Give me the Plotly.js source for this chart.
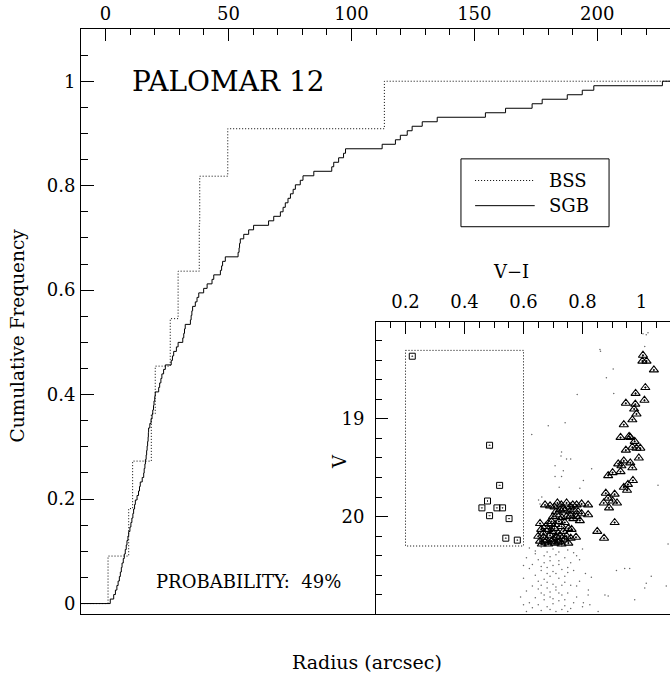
<!DOCTYPE html>
<html>
<head>
<meta charset="utf-8">
<script src="https://cdn.plot.ly/plotly-3.0.1.min.js"></script>
<style>html,body{margin:0;padding:0;overflow:hidden;background:#fff;}#chart{width:672px;height:677px;}</style>
</head>
<body>
<div id="chart"></div>
<script>
// ---------- Data: cumulative radial distributions (radius in arcsec) ----------
const bssRadius = [1.0, 9.4, 11.0, 18.6, 20.2, 26.3, 29.5, 38.1, 38.3, 49.7, 113.4];
const sgbRadius = [
  1.9, 3.3, 4.0, 4.6, 5.1, 5.6, 6.0, 6.4, 6.7, 7.2,
  7.6, 8.0, 8.4, 8.7, 9.1, 9.4, 9.9, 10.3, 10.7, 11.1,
  11.4, 11.8, 12.1, 12.8, 13.4, 13.8, 14.1, 14.9, 15.5, 15.7,
  16.0, 16.2, 16.5, 16.7, 16.9, 17.1, 17.3, 17.4, 17.5, 18.0,
  18.5, 18.9, 19.2, 19.5, 19.7, 20.0, 20.2, 21.6, 22.0, 22.5,
  22.9, 23.6, 24.3, 26.7, 27.2, 27.7, 28.8, 29.5, 31.4, 31.8,
  32.1, 32.4, 34.5, 34.8, 35.1, 35.4, 36.5, 37.2, 37.9, 39.9,
  41.3, 43.3, 44.0, 46.7, 47.2, 47.6, 48.7, 53.9, 54.3, 54.5,
  54.8, 56.2, 58.2, 60.2, 66.3, 68.4, 71.1, 72.2, 73.1, 74.2,
  75.2, 76.3, 77.2, 79.2, 80.3, 84.7, 92.0, 92.8, 94.8, 96.8,
  97.6, 112.5, 117.9, 119.9, 122.7, 124.7, 128.8, 134.9, 154.5, 162.7,
  173.5, 177.6, 187.8, 193.9, 198.6, 226.5
];
const radiusRange = [-10, 230];
const freqRange = [-0.02, 1.1];

// ---------- Data: inset CMD ----------
const bssVI = [0.223, 0.485, 0.519, 0.478, 0.459, 0.510, 0.529, 0.485, 0.551, 0.540, 0.579];
const bssV  = [18.36, 19.27, 19.68, 19.84, 19.91, 19.91, 19.91, 19.99, 20.02, 20.22, 20.24];
const bssBoxVI = [0.2, 0.6, 0.6, 0.2, 0.2];
const bssBoxV  = [18.3, 18.3, 20.3, 20.3, 18.3];

const sgbVI = [
  // giant branch
  1.005, 1.003, 1.017, 1.042, 1.013, 0.980, 1.010, 0.947, 0.979, 0.975,
  0.983, 0.969, 0.940, 0.929, 0.958, 0.962, 0.977, 0.947, 0.969, 0.983,
  0.996, 0.991, 0.921, 0.940, 0.962, 0.932, 0.969, 0.902, 0.887, 0.929,
  0.971, 0.954, 0.940, 0.951, 0.879, 0.909, 0.887, 0.902, 0.917, 0.872,
  0.890, 0.909, 0.850, 0.873,
  // subgiant clump
  0.673, 0.690, 0.715, 0.746, 0.767, 0.780, 0.797, 0.819, 0.705, 0.728, 0.758, 0.735,
  0.724, 0.757, 0.797, 0.819, 0.740, 0.770, 0.785, 0.710,
  0.713, 0.746, 0.769, 0.791, 0.730, 0.760, 0.700, 0.780,
  0.656, 0.684, 0.707, 0.729, 0.752, 0.763, 0.695, 0.720, 0.740, 0.675,
  0.667, 0.696, 0.718, 0.746, 0.778, 0.685, 0.705, 0.735, 0.660, 0.725,
  0.656, 0.679, 0.701, 0.724, 0.752, 0.668, 0.690, 0.712, 0.740, 0.760,
  0.662, 0.684, 0.706, 0.729, 0.695, 0.673, 0.717, 0.650
];
const sgbV = [
  18.35, 18.41, 18.41, 18.50, 18.68, 18.74, 18.81, 18.84, 18.85, 18.90,
  18.95, 19.01, 19.06, 19.19, 19.18, 19.19, 19.23, 19.32, 19.29, 19.30,
  19.30, 19.40, 19.46, 19.43, 19.45, 19.48, 19.50, 19.55, 19.58, 19.54,
  19.63, 19.67, 19.70, 19.73, 19.76, 19.77, 19.81, 19.84, 19.86, 19.86,
  19.91, 20.06, 20.15, 20.22,
  19.88, 19.89, 19.86, 19.86, 19.88, 19.88, 19.87, 19.88, 19.90, 19.88, 19.90, 19.92,
  19.93, 19.95, 19.97, 19.98, 19.94, 19.93, 19.95, 19.95,
  19.98, 20.00, 20.02, 20.04, 20.01, 19.99, 20.00, 20.00,
  20.07, 20.07, 20.08, 20.10, 20.12, 20.13, 20.05, 20.05, 20.06, 20.10,
  20.17, 20.15, 20.17, 20.20, 20.21, 20.13, 20.12, 20.15, 20.13, 20.20,
  20.25, 20.24, 20.23, 20.25, 20.27, 20.21, 20.19, 20.21, 20.23, 20.22,
  20.28, 20.28, 20.27, 20.28, 20.25, 20.26, 20.26, 20.20
];

const fieldVI = [
  0.62, 0.66, 0.70, 0.73, 0.75, 0.68, 0.64, 0.71, 0.77, 0.80,
  0.61, 0.65, 0.69, 0.72, 0.74, 0.67, 0.63, 0.76, 0.79, 0.70,
  0.62, 0.66, 0.68, 0.73, 0.75, 0.71, 0.64, 0.69, 0.77, 0.81,
  0.60, 0.65, 0.67, 0.72, 0.74, 0.70, 0.63, 0.68, 0.76, 0.79,
  0.61, 0.66, 0.69, 0.71, 0.73, 0.75, 0.64, 0.67, 0.72, 0.78,
  0.62, 0.65, 0.68, 0.70, 0.74, 0.76, 0.66, 0.71, 0.73, 0.80,
  0.67, 0.69, 0.72, 0.66, 0.70, 0.74, 0.68, 0.71, 0.65, 0.73,
  0.69, 0.67, 0.70, 0.74, 0.63, 0.77, 0.82, 0.83, 0.60, 0.59,
  0.64, 0.72, 0.78, 0.68, 0.75, 0.66, 0.72, 0.69, 0.75, 0.61,
  0.859, 0.861, 1.011, 1.016, 1.005, 1.022, 0.904, 0.881, 0.906, 0.782,
  0.741, 0.684, 0.628, 0.729, 0.727, 0.746, 0.760, 0.707, 0.735, 0.729,
  0.707, 0.803, 0.721, 0.791, 0.831, 1.056, 0.662, 0.651, 0.656, 1.090,
  1.084, 1.033, 1.016, 1.011, 0.977, 0.960, 0.943, 0.915, 0.876, 0.887,
  0.853, 0.825, 0.803, 0.819, 0.780, 0.600
];
const fieldV = [
  20.32, 20.31, 20.33, 20.30, 20.34, 20.36, 20.38, 20.39, 20.37, 20.33,
  20.42, 20.44, 20.41, 20.45, 20.42, 20.47, 20.49, 20.47, 20.44, 20.50,
  20.53, 20.55, 20.52, 20.54, 20.57, 20.58, 20.60, 20.61, 20.55, 20.58,
  20.63, 20.66, 20.64, 20.63, 20.67, 20.69, 20.71, 20.73, 20.70, 20.66,
  20.76, 20.78, 20.77, 20.75, 20.80, 20.78, 20.83, 20.85, 20.86, 20.82,
  20.88, 20.90, 20.92, 20.89, 20.91, 20.94, 20.96, 20.97, 20.95, 20.92,
  20.40, 20.45, 20.49, 20.51, 20.56, 20.61, 20.67, 20.72, 20.74, 20.70,
  20.82, 20.80, 20.84, 20.85, 20.93, 20.88, 20.75, 20.62, 20.50, 20.82,
  20.35, 20.36, 20.40, 20.58, 20.52, 20.70, 20.78, 20.95, 20.97, 20.97,
  18.29, 18.31, 18.26, 18.14, 18.13, 18.12, 18.49, 18.58, 18.74, 18.75,
  19.04, 19.07, 19.16, 19.34, 19.38, 19.41, 19.41, 19.48, 19.53, 19.59,
  19.59, 19.63, 19.70, 19.71, 19.51, 19.68, 19.80, 19.83, 19.87, 20.28,
  20.71, 20.61, 20.68, 20.73, 20.85, 20.53, 20.53, 20.55, 20.80, 20.81,
  20.97, 20.90, 20.88, 20.80, 20.71, 20.90
];

// ---------- Build cumulative step curves ----------
function cumulative(radii) {
  const xs = [radiusRange[0]], ys = [0];
  radii.forEach((r, i) => { xs.push(r); ys.push((i + 1) / radii.length); });
  xs.push(radiusRange[1]); ys.push(1);
  return {x: xs, y: ys};
}
const bssC = cumulative(bssRadius);
const sgbC = cumulative(sgbRadius);

const FONT = 'DejaVu Serif';

const traces = [
  {x: sgbC.x, y: sgbC.y, mode: 'lines', line: {shape: 'hv', color: '#000', width: 1}, name: 'SGB', showlegend: false, xaxis: 'x', yaxis: 'y'},
  {x: bssC.x, y: bssC.y, mode: 'lines', line: {shape: 'hv', color: '#000', width: 1, dash: '1px,2px'}, name: 'BSS', showlegend: false, xaxis: 'x', yaxis: 'y'},
  {x: fieldVI, y: fieldV, mode: 'markers', marker: {symbol: 'circle', size: 1.5, color: '#666'}, showlegend: false, xaxis: 'x2', yaxis: 'y2'},
  {x: bssBoxVI, y: bssBoxV, mode: 'lines', line: {color: '#000', width: 1, dash: '1px,2px'}, showlegend: false, xaxis: 'x2', yaxis: 'y2'},
  {x: sgbVI, y: sgbV, mode: 'markers', marker: {symbol: 'triangle-up-open-dot', size: 8, color: '#000', line: {width: 1.1, color: '#000'}}, showlegend: false, xaxis: 'x2', yaxis: 'y2'},
  {x: bssVI, y: bssV, mode: 'markers', marker: {symbol: 'square-open-dot', size: 6, color: '#000', line: {width: 1, color: '#000'}}, showlegend: false, xaxis: 'x2', yaxis: 'y2'}
];

const tickFont = {family: FONT, size: 18, color: '#000'};
function minorTicks(dtick, tick0, len) {
  return {ticks: 'inside', dtick: dtick, tick0: tick0, ticklen: len, tickwidth: 1, tickcolor: '#000', showgrid: false};
}
const layout = {
  width: 672, height: 677, autosize: false,
  margin: {l: 81, r: 1, t: 29, b: 63},
  paper_bgcolor: '#fff', plot_bgcolor: 'rgba(0,0,0,0)',
  font: {family: FONT, size: 17, color: '#000'},
  showlegend: false,
  xaxis: {
    domain: [0, 1], range: radiusRange, side: 'top', anchor: 'y',
    showline: true, mirror: true, linecolor: '#000', linewidth: 1,
    ticks: 'inside', ticklen: 12, tickwidth: 1, tickcolor: '#000',
    tick0: 0, dtick: 50, tickfont: tickFont, ticklabelstandoff: 1,
    minor: minorTicks(10, 0, 6),
    showgrid: false, zeroline: false
  },
  yaxis: {
    domain: [0, 1], range: freqRange, anchor: 'x',
    showline: true, mirror: false, linecolor: '#000', linewidth: 1,
    ticks: 'inside', ticklen: 13, tickwidth: 1, tickcolor: '#000',
    tick0: 0, dtick: 0.2, tickfont: tickFont, ticklabelstandoff: 1,
    minor: minorTicks(0.05, 0, 7),
    showgrid: false, zeroline: false
  },
  xaxis2: {
    domain: [0.5, 1], range: [0.1, 1.1], side: 'top', anchor: 'y2',
    showline: true, mirror: true, linecolor: '#000', linewidth: 1,
    ticks: 'inside', ticklen: 12, tickwidth: 1, tickcolor: '#000',
    tick0: 0, dtick: 0.2, tickfont: tickFont, ticklabelstandoff: 5,
    minor: minorTicks(0.05, 0, 6),
    showgrid: false, zeroline: false
  },
  yaxis2: {
    domain: [0, 0.5], range: [20.995, 18.005], anchor: 'x2',
    showline: true, mirror: true, linecolor: '#000', linewidth: 1,
    ticks: 'inside', ticklen: 12, tickwidth: 1, tickcolor: '#000',
    tick0: 18, dtick: 1, tickfont: tickFont, ticklabelstandoff: 7,
    minor: minorTicks(0.2, 18, 6),
    showgrid: false, zeroline: false
  },
  shapes: [
    {type: 'rect', xref: 'paper', yref: 'paper', x0: 0.644, x1: 0.895, y0: 0.662, y1: 0.778, line: {color: '#000', width: 1}, fillcolor: '#fff'},
    {type: 'line', xref: 'paper', yref: 'paper', x0: 0.668, x1: 0.769, y0: 0.741, y1: 0.741, line: {color: '#000', width: 1, dash: '1px,2px'}},
    {type: 'line', xref: 'paper', yref: 'paper', x0: 0.668, x1: 0.769, y0: 0.698, y1: 0.698, line: {color: '#000', width: 1}}
  ],
  annotations: [
    {text: 'BSS', xref: 'paper', yref: 'paper', x: 0.790, y: 0.741, xanchor: 'left', yanchor: 'middle', showarrow: false, font: {family: FONT, size: 18, color: '#000'}},
    {text: 'SGB', xref: 'paper', yref: 'paper', x: 0.790, y: 0.698, xanchor: 'left', yanchor: 'middle', showarrow: false, font: {family: FONT, size: 18, color: '#000'}},
    {text: 'PALOMAR 12', xref: 'paper', yref: 'paper', x: 0.083, y: 0.910, xanchor: 'left', yanchor: 'middle', showarrow: false, font: {family: FONT, size: 28, color: '#000'}},
    {text: 'PROBABILITY:  49%', xref: 'paper', yref: 'paper', x: 0.124, y: 0.055, xanchor: 'left', yanchor: 'middle', showarrow: false, font: {family: FONT, size: 18, color: '#000'}},
    {text: 'Radius (arcsec)', xref: 'paper', yref: 'paper', x: 0.485, y: -0.0815, xanchor: 'center', yanchor: 'middle', showarrow: false, font: {family: FONT, size: 19, color: '#000'}},
    {text: 'Cumulative Frequency', xref: 'paper', yref: 'paper', x: -0.107, y: 0.476, xanchor: 'center', yanchor: 'middle', textangle: -90, showarrow: false, font: {family: FONT, size: 18.5, color: '#000'}},
    {text: 'V\u2212I', xref: 'paper', yref: 'paper', x: 0.729, y: 0.585, xanchor: 'center', yanchor: 'middle', showarrow: false, font: {family: FONT, size: 18, color: '#000'}},
    {text: 'V', xref: 'paper', yref: 'paper', x: 0.439, y: 0.26, xanchor: 'center', yanchor: 'middle', textangle: -90, showarrow: false, font: {family: FONT, size: 18, color: '#000'}}
  ]
};

Plotly.newPlot('chart', traces, layout, {staticPlot: true, displayModeBar: false});
</script>
</body>
</html>
